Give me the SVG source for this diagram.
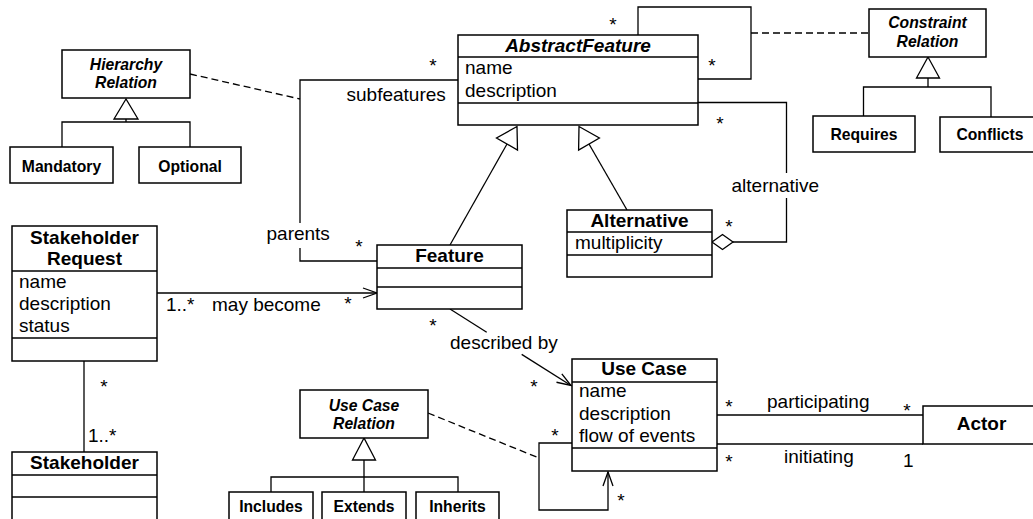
<svg xmlns="http://www.w3.org/2000/svg" width="1033" height="519" viewBox="0 0 1033 519">
  <style>
    text { font-family: "Liberation Sans", Arial, Helvetica, sans-serif; fill: #000; }
    .box { fill: #fff; stroke: #000; stroke-width: 1.5; }
    .sep { stroke: #000; stroke-width: 1.5; }
    .title { font-size: 19px; font-weight: bold; text-anchor: middle; }
    .abstract { font-style: italic; }
    .small { font-size: 15.7px; font-weight: bold; text-anchor: middle; }
    .attr { font-size: 19px; }
    .lbl { font-size: 19px; }
    .mult { font-size: 19px; text-anchor: middle; }
    .line { fill: none; stroke: #000; stroke-width: 1.3; }
    .dash { fill: none; stroke: #000; stroke-width: 1.3; stroke-dasharray: 7 4; }
    .tri { fill: #fff; stroke: #000; stroke-width: 1.3; }
  </style>
  <defs>
    <marker id="open" viewBox="-16 -8 18 16" markerWidth="18" markerHeight="16" refX="0" refY="0" orient="auto" markerUnits="userSpaceOnUse">
      <path d="M-14,-5 L0,0 L-14,5" fill="none" stroke="#000" stroke-width="1.3"/>
    </marker>
  </defs>

  <rect width="1033" height="519" fill="#fff"/>

  <!-- connectors -->
  <g id="connectors">
    <!-- subfeatures / parents -->
    <path class="line" d="M458,80 H300 V223"/>
    <path class="line" d="M300,248 V261 H377"/>
    <!-- AbstractFeature self association -->
    <path class="line" d="M638,35 V7 H751 V79 H698"/>
    <!-- alternative aggregation -->
    <path class="line" d="M698,102.5 H786.5 V173"/>
    <path class="line" d="M786.5,198 V242 H733"/>
    <polygon class="tri" points="712,242 722.5,234.5 733,242 722.5,249.5"/>
    <!-- generalizations to AbstractFeature -->
    <path class="line" d="M450,245 L507,144"/>
    <polygon class="tri" points="517,126.5 517.5,150 496.5,138"/>
    <path class="line" d="M627,210 L589,144"/>
    <polygon class="tri" points="579,126.5 578.6,150 599.4,138"/>
    <!-- may become -->
    <path class="line" d="M157,293 H377" marker-end="url(#open)"/>
    <!-- described by -->
    <path class="line" d="M450,309 L486.7,332.2"/>
    <path class="line" d="M521.7,354.4 L571,385.5" marker-end="url(#open)"/>
    <!-- stakeholder -->
    <path class="line" d="M84,361 V452"/>
    <!-- actor associations -->
    <path class="line" d="M717,415 H923"/>
    <path class="line" d="M717,444 H923"/>
    <!-- Use Case self association -->
    <path class="line" d="M572,443 H539 V510 H608 V472" marker-end="url(#open)"/>
    <!-- association classes -->
    <path class="dash" d="M190,74 L300,99"/>
    <path class="dash" d="M751,33 H869"/>
    <path class="dash" d="M428,413 L539,458"/>
    <!-- hierarchy relation tree -->
    <polygon class="tri" points="126,99 114,119 138,119"/>
    <path class="line" d="M126,119 V122 M62,147 V122 H190 V147"/>
    <!-- constraint relation tree -->
    <polygon class="tri" points="928,57 916.5,78 939.5,78"/>
    <path class="line" d="M928,78 V87 M863.5,116 V87 H991 V117"/>
    <!-- use case relation tree -->
    <polygon class="tri" points="364,438 352.5,460 375.5,460"/>
    <path class="line" d="M364,460 V492 M271,492 V477 H458 V492"/>

    <!-- role names and multiplicities -->
    <text class="lbl" x="346.5" y="101">subfeatures</text>
    <text class="lbl" x="266.5" y="240">parents</text>
    <text class="lbl" x="731.5" y="192">alternative</text>
    <text class="lbl" x="166" y="311">1..*</text>
    <text class="lbl" x="212" y="311">may become</text>
    <text class="lbl" x="450" y="349">described by</text>
    <text class="lbl" x="767" y="408">participating</text>
    <text class="lbl" x="784" y="463">initiating</text>
    <text class="lbl" x="903" y="466.5">1</text>
    <text class="lbl" x="88" y="441.5">1..*</text>
    <text class="mult" x="433" y="72">*</text>
    <text class="mult" x="613" y="31">*</text>
    <text class="mult" x="712" y="72">*</text>
    <text class="mult" x="720" y="130">*</text>
    <text class="mult" x="729" y="233">*</text>
    <text class="mult" x="359" y="253">*</text>
    <text class="mult" x="348" y="310">*</text>
    <text class="mult" x="433" y="332">*</text>
    <text class="mult" x="534" y="393">*</text>
    <text class="mult" x="104" y="393">*</text>
    <text class="mult" x="729" y="413">*</text>
    <text class="mult" x="907" y="417">*</text>
    <text class="mult" x="729" y="468">*</text>
    <text class="mult" x="555" y="442">*</text>
    <text class="mult" x="621" y="507">*</text>
  </g>

  <!-- AbstractFeature -->
  <g id="abstract-feature">
    <rect class="box" x="458" y="35" width="240" height="90"/>
    <line class="sep" x1="458" y1="57" x2="698" y2="57"/>
    <line class="sep" x1="458" y1="103" x2="698" y2="103"/>
    <text class="title abstract" x="578" y="52">AbstractFeature</text>
    <text class="attr" x="465" y="74">name</text>
    <text class="attr" x="465" y="96.5">description</text>
  </g>

  <!-- Feature -->
  <g id="feature">
    <rect class="box" x="377" y="245" width="145" height="64"/>
    <line class="sep" x1="377" y1="268" x2="522" y2="268"/>
    <line class="sep" x1="377" y1="287" x2="522" y2="287"/>
    <text class="title" x="449.5" y="262">Feature</text>
  </g>

  <!-- Alternative -->
  <g id="alternative">
    <rect class="box" x="567" y="210" width="145" height="67"/>
    <line class="sep" x1="567" y1="232" x2="712" y2="232"/>
    <line class="sep" x1="567" y1="255" x2="712" y2="255"/>
    <text class="title" x="639.5" y="227">Alternative</text>
    <text class="attr" x="575" y="249">multiplicity</text>
  </g>

  <!-- Stakeholder Request -->
  <g id="stakeholder-request">
    <rect class="box" x="12" y="226" width="145" height="135"/>
    <line class="sep" x1="12" y1="271" x2="157" y2="271"/>
    <line class="sep" x1="12" y1="338" x2="157" y2="338"/>
    <text class="title" x="84.5" y="243.5">Stakeholder</text>
    <text class="title" x="84.5" y="264.5">Request</text>
    <text class="attr" x="19" y="288">name</text>
    <text class="attr" x="19" y="310">description</text>
    <text class="attr" x="19" y="332">status</text>
  </g>

  <!-- Stakeholder -->
  <g id="stakeholder">
    <rect class="box" x="12" y="452" width="145" height="80"/>
    <line class="sep" x1="12" y1="475" x2="157" y2="475"/>
    <line class="sep" x1="12" y1="497" x2="157" y2="497"/>
    <text class="title" x="84.5" y="468.5">Stakeholder</text>
  </g>

  <!-- Use Case -->
  <g id="use-case">
    <rect class="box" x="572" y="359" width="145" height="112"/>
    <line class="sep" x1="572" y1="382" x2="717" y2="382"/>
    <line class="sep" x1="572" y1="448" x2="717" y2="448"/>
    <text class="title" x="644" y="375">Use Case</text>
    <text class="attr" x="579" y="397">name</text>
    <text class="attr" x="579" y="420">description</text>
    <text class="attr" x="579" y="442">flow of events</text>
  </g>

  <!-- Actor -->
  <g id="actor">
    <rect class="box" x="923" y="406" width="120" height="38"/>
    <text class="title" x="981.5" y="429.5">Actor</text>
  </g>

  <!-- Hierarchy Relation -->
  <g id="hierarchy-relation">
    <rect class="box" x="62" y="50" width="128" height="48"/>
    <text class="small abstract" x="126" y="70">Hierarchy</text>
    <text class="small abstract" x="126" y="88">Relation</text>
  </g>
  <g id="mandatory">
    <rect class="box" x="10" y="147" width="103" height="36"/>
    <text class="small" x="61.5" y="171.5">Mandatory</text>
  </g>
  <g id="optional">
    <rect class="box" x="139" y="147" width="102" height="36"/>
    <text class="small" x="190" y="171.5">Optional</text>
  </g>

  <!-- Constraint Relation -->
  <g id="constraint-relation">
    <rect class="box" x="869" y="9" width="117" height="48"/>
    <text class="small abstract" x="927.5" y="28">Constraint</text>
    <text class="small abstract" x="927.5" y="46.5">Relation</text>
  </g>
  <g id="requires">
    <rect class="box" x="813" y="116" width="102" height="36"/>
    <text class="small" x="864" y="140">Requires</text>
  </g>
  <g id="conflicts">
    <rect class="box" x="940" y="117" width="100" height="35"/>
    <text class="small" x="990" y="140">Conflicts</text>
  </g>

  <!-- Use Case Relation -->
  <g id="use-case-relation">
    <rect class="box" x="300" y="390" width="128" height="48"/>
    <text class="small abstract" x="364" y="410.5">Use Case</text>
    <text class="small abstract" x="364" y="429">Relation</text>
  </g>
  <g id="includes">
    <rect class="box" x="229" y="492" width="84" height="40"/>
    <text class="small" x="271" y="511.5">Includes</text>
  </g>
  <g id="extends">
    <rect class="box" x="322" y="492" width="84" height="40"/>
    <text class="small" x="364" y="511.5">Extends</text>
  </g>
  <g id="inherits">
    <rect class="box" x="416" y="492" width="83" height="40"/>
    <text class="small" x="457.5" y="511.5">Inherits</text>
  </g>
</svg>
